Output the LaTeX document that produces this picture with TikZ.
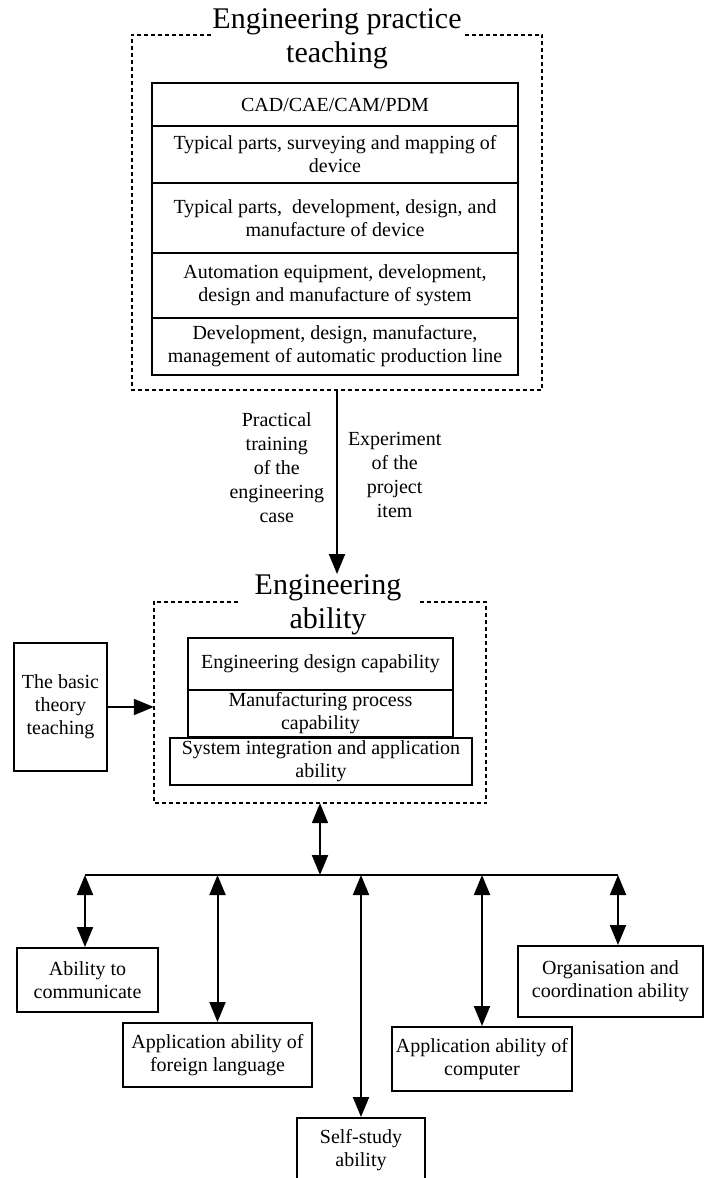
\documentclass[tikz,border=0pt]{standalone}
\usepackage{fontspec}
\setmainfont{Liberation Serif}
\usetikzlibrary{arrows.meta}

\tikzset{
  box/.style={draw,line width=2pt,align=center,inner sep=0pt,
    font=\fontsize{20}{23}\selectfont},
  frametitle/.style={align=center,anchor=north,inner ysep=0pt,
    font=\fontsize{30}{34}\selectfont},
  frame/.style={inner sep=0pt},
  dashedframe/.style={line width=1.8pt,dash pattern=on 4pt off 3pt},
  link/.style={line width=2pt},
  linklabel/.style={align=center,inner sep=2pt,font=\fontsize{20}{24}\selectfont},
}

\begin{document}
\begin{tikzpicture}[>={Triangle[length=20pt,width=16pt]},x=1pt,y=-1pt]
  \useasboundingbox (0,0) rectangle (705,1178);

  % ---- engineering practice teaching (top frame) ---------------------
  \node[frame,minimum width=410pt,minimum height=355pt] (practiceframe) at (337,212.5) {};
  \node[frametitle,inner xsep=1pt] (practicetitle) at (337,8)
        {Engineering practice\\teaching};
  \draw[dashedframe] (practicetitle.west |- practiceframe.north)
        -- (practiceframe.north west) -- (practiceframe.south west)
        -- (practiceframe.south east) -- (practiceframe.north east)
        -- (practicetitle.east |- practiceframe.north);

  \node[box,minimum width=366pt,minimum height=43pt] (cadrow) at (335,104.5)
        {CAD/CAE/CAM/PDM};
  \node[box,minimum width=366pt,minimum height=57pt] (surveyrow) at (335,154.5)
        {Typical parts, surveying and mapping of\\device};
  \node[box,minimum width=366pt,minimum height=70pt] (devicerow) at (335,218)
        {Typical parts,~ development, design, and\\manufacture of device};
  \node[box,minimum width=366pt,minimum height=65pt] (systemrow) at (335,285.5)
        {Automation equipment, development,\\design and manufacture of system};
  \node[box,minimum width=366pt,minimum height=57pt] (linerow) at (335,346.5)
        {Development, design, manufacture,\\management of automatic production line};

  % ---- engineering ability (middle frame) ----------------------------
  \node[frame,minimum width=332pt,minimum height=201pt] (abilityframe) at (320,702.5) {};
  \node[frametitle,inner xsep=16pt] (abilitytitle) at (328,574)
        {Engineering\\ability};
  \draw[dashedframe] (abilitytitle.west |- abilityframe.north)
        -- (abilityframe.north west) -- (abilityframe.south west)
        -- (abilityframe.south east) -- (abilityframe.north east)
        -- (abilitytitle.east |- abilityframe.north);

  \node[box,minimum width=265pt,minimum height=52pt] (designbox) at (320.5,664)
        {Engineering design capability};
  \node[box,minimum width=265pt,minimum height=47pt] (processbox) at (320.5,713.5)
        {Manufacturing process\\capability};
  \node[box,minimum width=302pt,minimum height=47pt] (integrationbox) at (321,761.5)
        {System integration and application\\ability};

  \node[box,minimum width=93pt,minimum height=128pt] (basicbox) at (60.5,707)
        {The basic\\theory\\teaching};

  \draw[link,->] (practiceframe.south)
        -- node[linklabel,pos=0.42,left=10pt]
             {Practical\\training\\of the\\engineering\\case}
           node[linklabel,pos=0.46,right=8pt]
             {Experiment\\of the\\project\\item}
        (practiceframe.south |- abilitytitle.north);
  \draw[link,->] (basicbox.east) -- (basicbox.east -| abilityframe.west);

  % ---- abilities (bottom row) ----------------------------------------
  \node[box,minimum width=141pt,minimum height=64pt] (commbox) at (87.5,980)
        {Ability to\\communicate};
  \node[box,minimum width=189pt,minimum height=64pt] (foreignbox) at (217.5,1055)
        {Application ability of\\foreign language};
  \node[box,minimum width=128pt,minimum height=64pt] (selfbox) at (361,1150)
        {Self-study\\ability};
  \node[box,minimum width=180pt,minimum height=64pt] (compbox) at (482,1059)
        {Application ability of\\computer};
  \node[box,minimum width=185pt,minimum height=71pt] (orgbox) at (610.5,981.5)
        {Organisation and\\coordination ability};

  \coordinate (busleft) at (85,875);
  \coordinate (busright) at (618,875);
  \draw[link] (busleft) -- (busright);
  \draw[link,<->] (abilityframe.south) -- (abilityframe.south |- busleft);
  \draw[link,<->] (busleft) -- (busleft |- commbox.north);
  \foreach \b in {foreignbox,selfbox,compbox}
    \draw[link,<->] (\b.north |- busleft) -- (\b.north);
  \draw[link,<->] (busright) -- (busright |- orgbox.north);

\end{tikzpicture}
\end{document}
